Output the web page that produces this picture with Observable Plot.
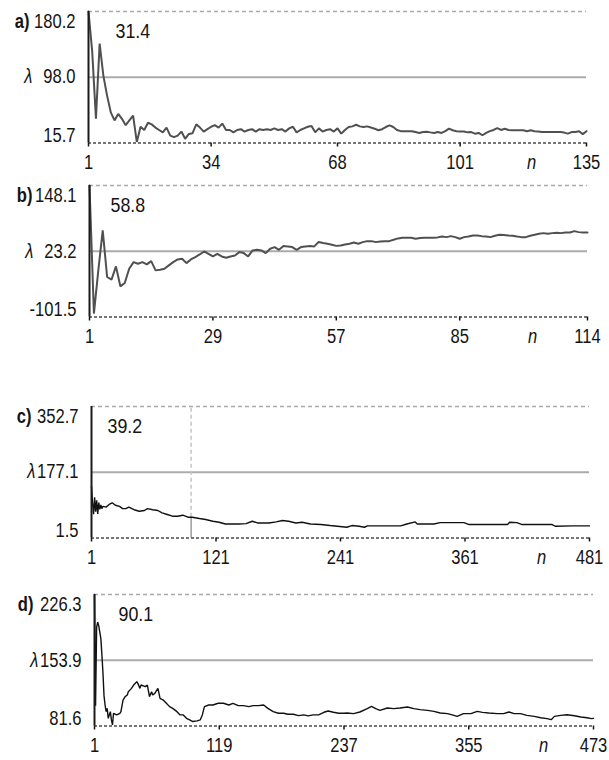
<!DOCTYPE html>
<html><head><meta charset="utf-8">
<script src="https://cdn.jsdelivr.net/npm/d3@7"></script>
<script src="https://cdn.jsdelivr.net/npm/@observablehq/plot@0.6"></script>
<style>
body{margin:0;background:#fff}
#chart{position:relative;width:609px;height:760px}
#chart svg{position:absolute;left:0}
</style>
</head><body><div id="chart"></div>
<script>
// ---------- data ----------
const panelLetters = ["a)", "b)", "c)", "d)"];
const panelNotes = ["31.4", "58.8", "39.2", "90.1"];
const yRanges = [[15.7, 180.2], [-101.5, 148.1], [1.5, 352.7], [81.6, 226.3]];
const lambdas = [98.0, 23.2, 177.1, 153.9];
const xTicksA = [1, 34, 68, 101, 135];
const xTicksB = [1, 29, 57, 85, 114];
const xTicksC = [1, 121, 241, 361, 481];
const xTicksD = [1, 119, 237, 355, 473];

const aValues = [180.2,130,46,140,100,75,54,44,52,46,38,44,50,17,36,32,41,39,35,32,29,35,25,23,25,30,21,27,28,39,
35,30,33,36,38,35,40,32,32,29,32,33,30,32,33,30,33,32,33,32,34,32,33,30,34,36,29,32,34,36,
37,29,34,30,32,33,30,34,27.4,32,35.7,36.5,38.5,36.5,35.7,36.5,35,33.6,31.6,33,35.7,37.8,35.7,32,30.5,30.5,30.5,30.5,29.4,28.3,
29.4,29.8,29,28.3,29.4,28.3,30.5,33.6,31.6,30.5,30.2,30.2,29,29.4,27.4,28.3,25.4,28.3,30.5,32,34.3,32,33.6,32,31.6,31.6,31.6,31.6,30.5,31.6,
30.5,30.2,29.4,29.4,29.4,29.4,29.4,29.4,28.7,27.4,29.4,29.4,30.5,26.8,30.5];

const bValues = [148.1,-95,-13,62.8,-25.6,-30.6,-5.4,-43.3,-37,-9.8,2.7,-0.4,2.7,-1.7,4.6,-13,-11.7,-9.8,-3.5,2.7,
7.7,9,0.8,7.7,12.1,17.2,22.9,18.5,13.4,18.5,13.4,10.9,13.4,15.3,21.7,19.8,13.4,24.8,26.1,24.8,
19.8,28,31.2,26.1,33.1,32.5,31.2,26.1,31.2,32.5,33.1,32.5,40.7,38.8,37.5,35.6,33.5,34.4,36.2,37.6,
40,37.6,40.6,42.5,42.5,40.6,41.9,42.5,42.5,45.2,47.7,49,49,49,47.1,48.4,49,49,49,49.6,
51.4,50.1,52,50.1,47.1,50.1,51.4,53.3,53.3,52,51.4,50.1,52.8,54.6,54,53.3,52.8,51.4,50.1,50.1,
52.8,54.6,56.5,57.7,56.5,57.7,58.3,57.7,59,59,61.5,59.6,59,59];

const cN = [1,2,3,4,5,6,7,8,9,10,11,12,15,18,21,24,28,31,34,37,42,47,52,55,60,65,69,74,79,84,89,94,98,105,111,118,124,130,137,143,
150,156,161,166,172,179,185,191,198,204,212,222,231,238,247,252,259,264,267,283,299,305,313,315,331,337,353,360,365,382,402,404,411,416,445,448,465,481];
const cValues = [140,95,65,110,72,102,66,96,78,90,80,86,84,91,95.5,89,86,80,80,84,77,73,75,80,77,75,68.5,64.2,59.7,59.7,62.4,57,57,53.5,50.8,46.3,43.6,39,39,39,
40,46.3,41.7,41.7,41.7,44.5,48.1,46.3,41.7,43.6,39,37.4,34.7,32.9,30.2,34.7,32.9,30.2,33.8,33.8,33.8,39,44.5,39,39,42.6,42.6,42.6,37.4,37.4,37.4,43.6,42.6,37.4,37.4,32.9,33.8,33.8];
const cMarkerN = [97];
const cMarkerValue = [57];

const dN = [1,2,3,4,5,6,7,8,9,10,11,12,13,14,16,17,18,19,22,25,26,28,30,32,33,36,38,41,42,44,45,49,51,53,55,56,58,61,63,66,
69,72,75,79,82,85,88,91,94,98,101,103,105,109,113,118,123,128,132,137,142,147,151,156,161,165,170,175,180,184,
189,194,199,203,208,213,218,222,227,232,237,240,246,252,259,263,267,271,278,284,290,297,303,309,316,322,328,335,341,344,
350,357,363,368,374,382,388,393,398,404,410,417,423,429,433,436,442,448,455,461,467,471,473];
const dValues = [226.3,104,190,196,192,185,178,160,140,115,104.7,97.4,101,90,97.4,88.3,82.8,95.6,93.8,95.6,97.4,110.2,113.9,115.7,119.4,123,126.7,130.4,128.5,123,126.7,124.9,126.7,113.9,119.4,115.7,117.5,123,112,110.2,
106.6,102.9,101,97.4,93.8,93.8,90.1,88.3,86.5,87.2,88.3,93.8,102.9,104.7,104.7,106.6,106.6,104.7,106.6,104,104,102.9,104,104,104.7,101,97.4,95.6,95.6,94.5,
94.5,93,93.8,92.7,93.8,93.8,96.7,98.1,96.7,95.6,95.6,95.9,95.2,97,100.7,103.3,100.7,98.8,101.4,100.7,101.4,102.5,100.7,99.6,98.8,97.7,95.9,95.2,93.3,92.2,
95.2,95.2,97.7,96.6,95.9,95.2,95.2,97,95.2,95.2,93.3,92.2,90.7,89.7,88.6,92.2,93.3,94,92.9,91.5,90.7,89.7,90];

// ---------- fonts ----------
const family = '"Liberation Sans", Arial, sans-serif';
const fsTick = 19.5;
const fsNote = 21;
const squeeze = 0.85; // narrow-looking glyphs

// ---------- panels ----------
const seq = (k) => Array.from({length: k}, (_, i) => i + 1);
const panels = [
  {n: seq(aValues.length), v: aValues, ticks: xTicksA, top: 0, ml: 88, mr: 23, stroke: "#505050", sw: 2, noteDx: 27, nDx: -55, letterDx: -59},
  {n: seq(bValues.length), v: bValues, ticks: xTicksB, top: 174, ml: 89, mr: 22, stroke: "#505050", sw: 2, noteDx: 21, nDx: -55, letterDx: -57},
  {n: cN, v: cValues, ticks: xTicksC, top: 395, ml: 91, mr: 20, stroke: "#111", sw: 1.4, noteDx: 16, nDx: -48, letterDx: -60},
  {n: dN, v: dValues, ticks: xTicksD, top: 583, ml: 94, mr: 16, stroke: "#111", sw: 1.4, noteDx: 24, nDx: -50, letterDx: -61}
];

function squeezeTexts(svg) {
  svg.querySelectorAll("text").forEach(t => {
    const x = t.getAttribute("x");
    let tr = t.getAttribute("transform") || "";
    if (x !== null) { tr += ` translate(${x},0)`; t.setAttribute("x", 0); }
    t.setAttribute("transform", (tr + ` scale(${squeeze},1)`).trim());
  });
}

const chart = document.getElementById("chart");
panels.forEach((p, i) => {
  const [yMin, yMax] = yRanges[i];
  const lam = lambdas[i];
  const data = p.n.map((n, j) => ({n, v: p.v[j]}));
  const xs = p.ticks;
  const marks = [
    Plot.ruleY([yMax], {stroke: "#a8a8a8", strokeWidth: 1.5, strokeDasharray: "4,3"}),
    Plot.ruleY([lam], {stroke: "#ababab", strokeWidth: 2})
  ];
  if (i === 2) {
    marks.push(Plot.ruleX(cMarkerN, {x: d => d, y1: cMarkerValue[0], y2: yMax, stroke: "#c4c4c4", strokeWidth: 1.5, strokeDasharray: "4,3"}));
    marks.push(Plot.ruleX(cMarkerN, {x: d => d, y1: yMin, y2: cMarkerValue[0], stroke: "#9a9a9a", strokeWidth: 1.5}));
  }
  marks.push(
    Plot.line(data, {x: "n", y: "v", stroke: p.stroke, strokeWidth: p.sw, strokeLinejoin: "miter"}),
    Plot.ruleY([yMin], {stroke: "#4a4a4a", strokeWidth: 1.5, strokeDasharray: "3,2"}),
    Plot.ruleX([xs[0]], {stroke: "#1a1a1a", strokeWidth: 2}),
    Plot.axisX({ticks: xs, tickSize: 4, tickPadding: 8.5, tickFormat: d => String(d), fontSize: fsTick, strokeWidth: 1.5, label: null}),
    Plot.text([yMax], {y: d => d, text: d => d.toFixed(1), frameAnchor: "left", dx: -13, textAnchor: "end", lineAnchor: "top", dy: 3, fontSize: fsTick}),
    Plot.text([lam], {y: d => d, text: d => d.toFixed(1), frameAnchor: "left", dx: -13, textAnchor: "end", lineAnchor: "middle", fontSize: fsTick}),
    Plot.text([yMin], {y: d => d, text: d => d.toFixed(1), frameAnchor: "left", dx: -13, textAnchor: "end", lineAnchor: "bottom", dy: -1, fontSize: fsTick}),
    Plot.text([lam], {y: d => d, text: () => "λ", frameAnchor: "left", dx: -56, textAnchor: "end", lineAnchor: "middle", fontSize: fsTick, fontStyle: "italic"}),
    Plot.text([yMax], {y: d => d, text: () => panelLetters[i], frameAnchor: "left", dx: p.letterDx, textAnchor: "end", lineAnchor: "top", dy: 3, fontSize: fsTick, fontWeight: "bold"}),
    Plot.text([panelNotes[i]], {text: d => d, frameAnchor: "top-left", dx: p.noteDx, dy: 12, textAnchor: "start", lineAnchor: "top", fontSize: fsNote}),
    Plot.text(["n"], {text: d => d, frameAnchor: "bottom-right", dx: p.nDx, dy: 12.5, textAnchor: "middle", lineAnchor: "top", fontSize: fsTick, fontStyle: "italic"})
  );
  const svg = Plot.plot({
    width: 609, height: 177.5,
    marginLeft: p.ml, marginRight: p.mr, marginTop: 11, marginBottom: 35,
    x: {domain: [xs[0], xs[xs.length - 1]]},
    y: {domain: [yMin, yMax], axis: null},
    style: {fontFamily: family, fontSize: fsTick + "px", color: "#141414", background: "transparent", overflow: "visible"},
    marks
  });
  squeezeTexts(svg);
  svg.style.top = p.top + "px";
  chart.appendChild(svg);
});
</script>
</body></html>
